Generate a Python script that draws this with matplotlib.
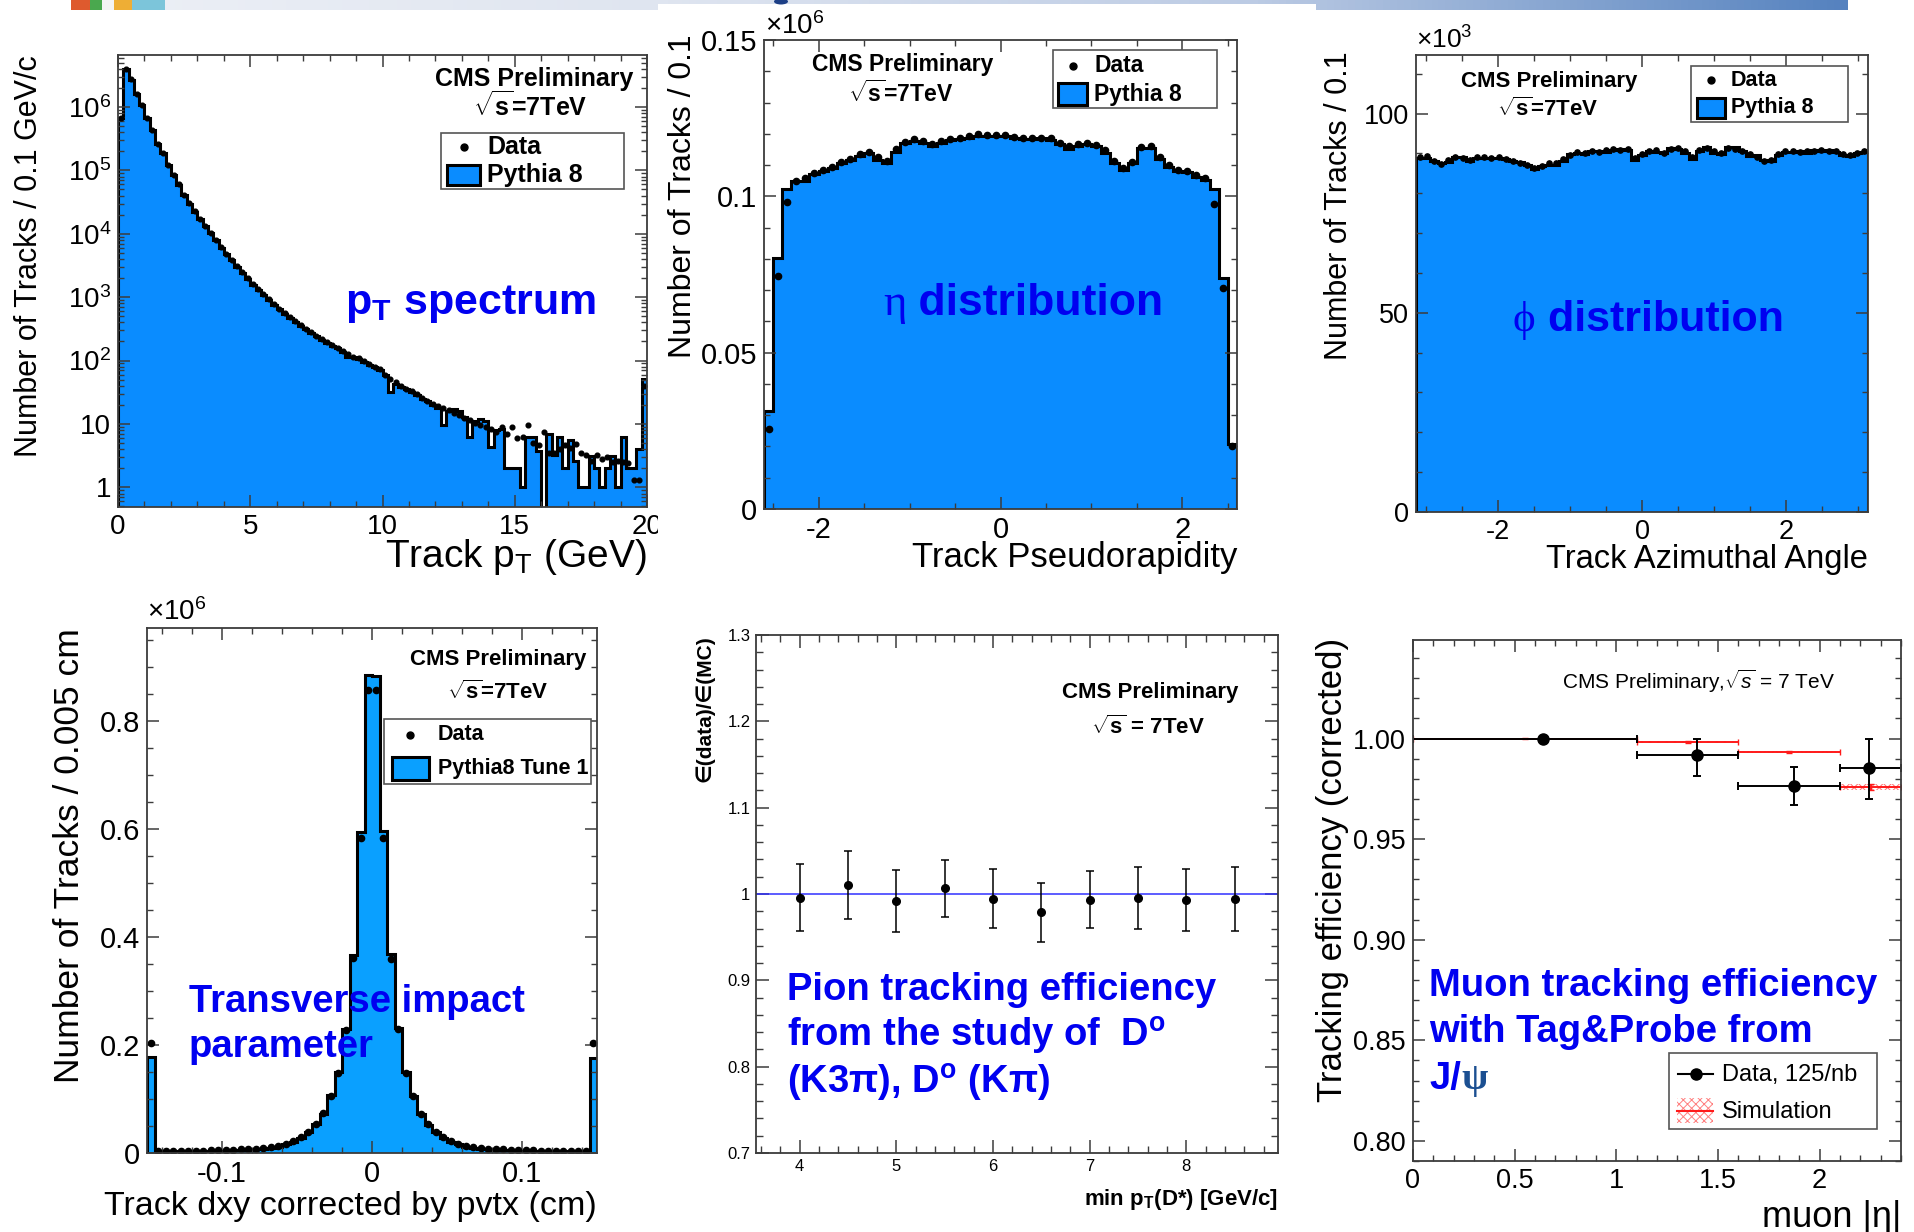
import numpy as np
import matplotlib.pyplot as plt
from matplotlib.colors import LinearSegmentedColormap
from matplotlib.lines import Line2D
from matplotlib.patches import Rectangle, Ellipse
from matplotlib.ticker import MultipleLocator, LogLocator, NullFormatter, FormatStrFormatter

plt.rcParams['font.family'] = ['Liberation Sans', 'DejaVu Sans']
plt.rcParams['mathtext.fontset'] = 'custom'
plt.rcParams['mathtext.rm'] = 'Liberation Sans'
plt.rcParams['mathtext.it'] = 'Liberation Sans:italic'
plt.rcParams['mathtext.bf'] = 'Liberation Sans:bold'
plt.rcParams['axes.unicode_minus'] = False
plt.rcParams['hatch.linewidth'] = 0.7

# ---- track pT spectrum, 0.2 GeV bins (last bin holds the overflow) ----
pt_edges = np.linspace(0, 20, 101)
pt_mc = [6.6e5, 3.9e6, 2.7e6, 1.6e6, 1.07e6, 6.6e5, 4.3e5, 2.6e5, 1.86e5, 1.2e5,
         8.3e4, 5.9e4, 4.1e4, 3.0e4, 2.24e4, 1.7e4, 1.32e4, 1.02e4, 7.9e3, 6.0e3,
         4.8e3, 3.8e3, 3.0e3, 2.4e3, 1.95e3, 1.58e3, 1.32e3, 1.1e3, 910, 760,
         650, 550, 470, 410, 355, 310, 275, 240, 214, 190,
         170, 155, 138, 112, 112, 105, 95, 85, 79, 71,
         60, 32, 42, 38, 35, 32, 29, 25, 23, 20,
         18, 9.5, 16, 17, 16, 13, 6.3, 11, 12, 11,
         4.3, 8, 8.3, 2, 2, 2, 1, 6.3, 6.3, 3.8,
         0, 7, 3.2, 6.3, 2, 5.5, 2.6, 1, 1, 3.1,
         2, 1, 2, 3.1, 1, 6.3, 2, 2, 4.1, 51]
pt_data = [6.8e5, 4.0e6, 2.75e6, 1.62e6, 1.08e6, 6.7e5, 4.3e5, 2.65e5, 1.88e5, 1.22e5,
           8.4e4, 6.0e4, 4.15e4, 3.05e4, 2.27e4, 1.72e4, 1.34e4, 1.03e4, 8.0e3, 6.1e3,
           4.85e3, 3.85e3, 3.05e3, 2.45e3, 1.97e3, 1.6e3, 1.34e3, 1.12e3, 920, 770,
           660, 560, 480, 415, 360, 315, 280, 245, 218, 195,
           175, 158, 140, 126, 115, 108, 98, 88, 80, 73,
           60, 52, 46, 40, 36, 33, 30, 26, 23, 21,
           19.5, 18, 16.5, 15, 14, 12.6, 11.5, 10.5, 9.5, 9.1,
           8.3, 7.6, 9.1, 7, 9.1, 6, 6.3, 9.8, 5, 4.6,
           7.6, 3.5, 3.5, 4, 4.6, 4.2, 4.9, 3.5, 3.2, 2.6,
           3.2, 2.8, 3, 2.5, 2.6, 2.5, 2.4, 1.3, 1.3, 40]

# ---- pseudorapidity, 0.1 bins, in units of 1e6 tracks ----
eta_edges = np.linspace(-2.6, 2.6, 53)
eta_mc = [0.0315, 0.0802, 0.1022, 0.1048, 0.1050, 0.1070, 0.1080, 0.1090, 0.1107, 0.1116,
          0.1130, 0.1140, 0.1116, 0.1107, 0.1142, 0.1172, 0.1178, 0.1172, 0.1160, 0.1172,
          0.1180, 0.1183, 0.1187, 0.1192, 0.1194, 0.1194, 0.1192, 0.1187, 0.1183, 0.1183,
          0.1187, 0.1180, 0.1166, 0.1152, 0.1160, 0.1166, 0.1160, 0.1140, 0.1107, 0.1083,
          0.1107, 0.1154, 0.1154, 0.1118, 0.1095, 0.1080, 0.1077, 0.1062, 0.1053, 0.1022,
          0.0740, 0.0209]
eta_data = [0.0256, 0.0746, 0.0983, 0.1050, 0.1058, 0.1075, 0.1085, 0.1095, 0.1110, 0.1120,
            0.1135, 0.1142, 0.1125, 0.1113, 0.1150, 0.1175, 0.1182, 0.1178, 0.1168, 0.1176,
            0.1184, 0.1186, 0.1192, 0.1198, 0.1196, 0.1197, 0.1195, 0.1190, 0.1188, 0.1186,
            0.1188, 0.1185, 0.1172, 0.1160, 0.1168, 0.1170, 0.1163, 0.1148, 0.1113, 0.1090,
            0.1110, 0.1158, 0.1160, 0.1125, 0.1100, 0.1085, 0.1082, 0.1068, 0.1058, 0.0977,
            0.0707, 0.0203]

# ---- azimuthal angle, in units of 1e3 tracks ----
phi_edges = np.linspace(-np.pi, np.pi, 64)
phi_mc = [88.8, 88.9, 88.2, 87.6, 87.8, 89.1, 89.0, 88.0, 88.8, 88.9,
          88.8, 88.9, 88.6, 88.0, 87.8, 87.0, 86.0, 86.9, 87.2, 87.2,
          88.2, 89.8, 90.0, 89.9, 90.5, 90.6, 90.4, 90.9, 91.0, 90.8,
          88.4, 89.7, 90.7, 90.4, 90.2, 91.3, 91.0, 90.2, 88.6, 90.6,
          91.6, 90.2, 89.8, 91.7, 91.5, 90.5, 89.4, 89.6, 88.3, 88.0,
          89.7, 90.4, 90.3, 90.6, 90.2, 90.9, 90.6, 90.8, 90.3, 89.5,
          89.3, 90.0, 90.3]
phi_data = [89.0, 89.3, 88.0, 87.4, 88.3, 89.2, 88.9, 88.4, 89.0, 89.1,
            88.9, 89.0, 88.5, 88.2, 87.6, 87.2, 86.3, 86.8, 87.5, 87.6,
            88.6, 89.6, 90.3, 90.1, 90.6, 90.4, 90.8, 91.0, 90.9, 91.2,
            88.9, 89.9, 90.5, 90.8, 90.0, 91.1, 91.3, 90.5, 89.0, 90.9,
            91.3, 90.6, 90.1, 91.4, 91.2, 90.7, 89.8, 89.2, 88.0, 88.4,
            89.9, 90.6, 90.5, 90.4, 90.5, 90.7, 90.8, 90.6, 90.5, 89.8,
            89.6, 90.2, 90.6]

# ---- transverse impact parameter, 0.005 cm bins, units of 1e6 (edge bins hold overflow) ----
dxy_edges = np.linspace(-0.15, 0.15, 61)
dxy_mc = [0.177, 0.0028, 0.0029, 0.0030, 0.0031, 0.0033, 0.0035, 0.0037, 0.0040, 0.0043,
          0.0046, 0.0050, 0.0056, 0.0062, 0.0070, 0.0080, 0.0095, 0.0120, 0.0160, 0.0210,
          0.0280, 0.0380, 0.0530, 0.0730, 0.1070, 0.1500, 0.2300, 0.3670, 0.5950, 0.8860,
          0.8840, 0.5970, 0.3690, 0.2310, 0.1510, 0.1060, 0.0720, 0.0520, 0.0380, 0.0280,
          0.0210, 0.0160, 0.0120, 0.0094, 0.0079, 0.0070, 0.0062, 0.0056, 0.0050, 0.0046,
          0.0043, 0.0040, 0.0037, 0.0035, 0.0033, 0.0031, 0.0030, 0.0029, 0.0028, 0.176]
dxy_data = [0.204, 0.0035, 0.0036, 0.0037, 0.0038, 0.0040, 0.0042, 0.0045, 0.0048, 0.0052,
            0.0056, 0.0060, 0.0066, 0.0073, 0.0082, 0.0093, 0.0110, 0.0135, 0.0175, 0.0225,
            0.0290, 0.0390, 0.0540, 0.0740, 0.1060, 0.1480, 0.2280, 0.3610, 0.5840, 0.8580,
            0.8580, 0.5840, 0.3600, 0.2290, 0.1490, 0.1050, 0.0730, 0.0530, 0.0390, 0.0290,
            0.0225, 0.0172, 0.0135, 0.0110, 0.0093, 0.0082, 0.0073, 0.0066, 0.0060, 0.0056,
            0.0052, 0.0048, 0.0045, 0.0042, 0.0040, 0.0038, 0.0037, 0.0036, 0.0035, 0.204]

# ---- pion tracking efficiency ratio vs min pT(D*) ----
pion_pt = [4.0, 4.5, 5.0, 5.5, 6.0, 6.5, 7.0, 7.5, 8.0, 8.5]
pion_ratio = [0.9957, 1.0106, 0.9923, 1.0067, 0.9947, 0.9788, 0.9933, 0.9957, 0.9933, 0.9947]
pion_err = [0.039, 0.039, 0.036, 0.033, 0.034, 0.034, 0.033, 0.036, 0.036, 0.037]

# ---- muon tracking efficiency vs |eta| ----
mu_bin_lo = [0.0, 1.1, 1.6, 2.1]
mu_bin_hi = [1.1, 1.6, 2.1, 2.4]
mu_eta = [0.637, 1.396, 1.872, 2.243]
mu_eff = [1.0000, 0.9916, 0.9764, 0.9855]
mu_err_up = [0.0010, 0.0084, 0.0093, 0.0145]
mu_err_dn = [0.0010, 0.0103, 0.0094, 0.0156]
sim_eff = [1.0000, 0.9983, 0.9934, 0.9759]
sim_err = [0.0004, 0.0005, 0.0005, 0.0013]

W, H = 1914, 1232
FILL = '#0a8cff'
FILL_DXY = '#0aa0ff'
BLUE = '#0000f0'
FRAME = '#3c3c3c'

fig = plt.figure(figsize=(W / 100, H / 100), dpi=100)


def panel(l, t, r, b, z=0):
    ax = fig.add_axes([l / W, 1 - b / H, (r - l) / W, (b - t) / H])
    ax.set_zorder(z)
    return ax


def root_axes(ax, size, pad=5, major=12, minor=6):
    for sp in ax.spines.values():
        sp.set_color(FRAME)
        sp.set_linewidth(1.3)
    ax.tick_params(which='both', direction='in', top=True, right=True, color=FRAME)
    ax.tick_params(which='major', length=major / 1.39, width=1.1, labelsize=size, pad=pad)
    ax.tick_params(which='minor', length=minor / 1.39, width=1.0)


def ftext(x, y, s, **kw):
    kw.setdefault('zorder', 6)
    return fig.text(x / W, 1 - y / H, s, **kw)


def frect(x0, y0, x1, y1, **kw):
    r = Rectangle((x0 / W, 1 - y1 / H), (x1 - x0) / W, (y1 - y0) / H,
                  transform=fig.transFigure, **kw)
    fig.add_artist(r)
    return r


def fdot(x, y, ms):
    fig.add_artist(Line2D([x / W], [1 - y / H], marker='o', ms=ms, color='black',
                          transform=fig.transFigure, zorder=7))


def hist_legend(box, dot, patch, text_x, labels, size, fill):
    frect(*box, facecolor='white', edgecolor='#555555', lw=1.2, zorder=5)
    fdot(dot[0], dot[1], 5)
    frect(*patch, facecolor=fill, edgecolor='black', lw=2.2, zorder=6)
    ftext(text_x, dot[1], labels[0], va='center', fontsize=size, fontweight='bold', zorder=7)
    ftext(text_x, (patch[1] + patch[3]) / 2, labels[1], va='center', fontsize=size,
          fontweight='bold', zorder=7)


def greek_title(x, y, greek, rest, size, ax):
    g = ftext(x, y, greek, fontsize=size, color=BLUE,
              family=['Liberation Serif', 'DejaVu Serif'], va='baseline')
    ax.annotate(rest, xy=(1, 0), xycoords=g, va='bottom', ha='left', fontsize=size,
                fontweight='bold', color=BLUE, annotation_clip=False, zorder=8)


# slide header strip
band = fig.add_axes([71 / W, 1 - 10 / H, (1848 - 71) / W, 10 / H])
band.axis('off')
band_cmap = LinearSegmentedColormap.from_list('band', ['#edf0f6', '#dfe5f0', '#bccbe4', '#5582bf'])
band.imshow(np.linspace(0, 1, 512)[None, :], aspect='auto', cmap=band_cmap)
for x0, x1, c in [(71, 90, '#de5a2e'), (90, 102, '#4aa84e'), (102, 114, '#f4f4f4'),
                  (114, 132, '#eeae35'), (132, 165, '#7cc5da')]:
    frect(x0, 0, x1, 10, facecolor=c, lw=0, zorder=1)
frect(658, 4, 1316, 560, facecolor='white', lw=0, zorder=1)
fig.add_artist(Ellipse((781 / W, 1 - 1.5 / H), 14 / W, 6 / H, transform=fig.transFigure,
                       facecolor='#1d3f86', lw=0, zorder=1))

# ---------- pT spectrum ----------
ax1 = panel(118, 55, 647, 507)
ax1.set_yscale('log')
pt_centres = 0.5 * (pt_edges[1:] + pt_edges[:-1])
ax1.stairs(pt_mc, pt_edges, baseline=1e-3, fill=True, color=FILL, lw=0)
ax1.stairs(pt_mc, pt_edges, baseline=1e-3, color='black', lw=2.2)
ax1.plot(pt_centres, pt_data, 'o', color='black', ms=3.4)
ax1.set_xlim(0, 20)
ax1.set_ylim(0.49, 6.6e6)
root_axes(ax1, 20)
ax1.xaxis.set_major_locator(MultipleLocator(5))
ax1.xaxis.set_minor_locator(MultipleLocator(1))
ax1.set_yticks([1, 10, 1e2, 1e3, 1e4, 1e5, 1e6],
               ['1', '10', r'$10^{2}$', r'$10^{3}$', r'$10^{4}$', r'$10^{5}$', r'$10^{6}$'])
ax1.yaxis.set_minor_locator(LogLocator(subs=np.arange(2, 10)))
ax1.yaxis.set_minor_formatter(NullFormatter())
ax1.set_ylabel('Number of Tracks / 0.1 GeV/c', fontsize=22, loc='top')
ax1.yaxis.set_label_coords(-0.14, 1.0)
ax1.set_xlabel(r'Track $\mathrm{p}_{\mathrm{T}}$ (GeV)', fontsize=28, loc='right')
ax1.xaxis.set_label_coords(1.0, -0.066)
ftext(633, 86, 'CMS Preliminary', ha='right', va='baseline', fontsize=18, fontweight='bold')
ftext(530, 116, r'$\sqrt{\mathbf{s}}$=7TeV', ha='center', va='baseline', fontsize=18,
      fontweight='bold')
hist_legend((441, 133, 624, 189), (464, 147), (447, 165, 480, 185), 487,
            ['Data', 'Pythia 8'], 18, FILL)
ftext(345, 314, r'$\mathbf{p_{T}}$ spectrum', va='baseline', fontsize=31,
      fontweight='bold', color=BLUE)

# ---------- pseudorapidity ----------
ax2 = panel(764, 40, 1237, 509, z=2)
eta_centres = 0.5 * (eta_edges[1:] + eta_edges[:-1])
ax2.stairs(eta_mc, eta_edges, fill=True, color=FILL, lw=0)
ax2.stairs(eta_mc, eta_edges, baseline=0, color='black', lw=2.2)
ax2.plot(eta_centres, eta_data, 'o', color='black', ms=4.5)
ax2.set_xlim(-2.6, 2.6)
ax2.set_ylim(0, 0.15)
root_axes(ax2, 21)
ax2.xaxis.set_major_locator(MultipleLocator(2))
ax2.xaxis.set_minor_locator(MultipleLocator(0.5))
ax2.yaxis.set_major_locator(MultipleLocator(0.05))
ax2.yaxis.set_minor_locator(MultipleLocator(0.01))
ax2.yaxis.set_major_formatter(FormatStrFormatter('%g'))
ax2.set_ylabel('Number of Tracks / 0.1', fontsize=23, loc='top')
ax2.yaxis.set_label_coords(-0.14, 1.012)
ax2.set_xlabel('Track Pseudorapidity', fontsize=25, loc='right')
ax2.xaxis.set_label_coords(1.0, -0.069)
ftext(765, 26, r'×$10^{6}$', va='center', fontsize=20)
ftext(903, 71, 'CMS Preliminary', ha='center', va='baseline', fontsize=16.5, fontweight='bold')
ftext(901, 102, r'$\sqrt{\mathbf{s}}$=7TeV', ha='center', va='baseline', fontsize=16.5,
      fontweight='bold')
hist_legend((1053, 50, 1217, 108), (1073, 66), (1058, 83, 1087, 105), 1094,
            ['Data', 'Pythia 8'], 16.5, FILL)
greek_title(883, 315, 'η', ' distribution', 32, ax2)

# ---------- azimuthal angle ----------
ax3 = panel(1416, 55, 1868, 512)
phi_centres = 0.5 * (phi_edges[1:] + phi_edges[:-1])
ax3.stairs(phi_mc, phi_edges, fill=True, color=FILL, lw=0)
ax3.stairs(phi_mc, phi_edges, baseline=0, color='black', lw=2.2)
ax3.plot(phi_centres, phi_data, 'o', color='black', ms=3.8)
ax3.set_xlim(-np.pi, np.pi)
ax3.set_ylim(0, 114.7)
root_axes(ax3, 19.5)
ax3.xaxis.set_major_locator(MultipleLocator(2))
ax3.xaxis.set_minor_locator(MultipleLocator(0.5))
ax3.yaxis.set_major_locator(MultipleLocator(50))
ax3.yaxis.set_minor_locator(MultipleLocator(10))
ax3.set_ylabel('Number of Tracks / 0.1', fontsize=22, loc='top')
ax3.yaxis.set_label_coords(-0.138, 1.008)
ax3.set_xlabel('Track Azimuthal Angle', fontsize=23.5, loc='right')
ax3.xaxis.set_label_coords(1.0, -0.069)
ftext(1416, 40, r'×$10^{3}$', va='center', fontsize=19)
ftext(1549, 87, 'CMS Preliminary', ha='center', va='baseline', fontsize=16, fontweight='bold')
ftext(1548, 116, r'$\sqrt{\mathbf{s}}$=7TeV', ha='center', va='baseline', fontsize=16,
      fontweight='bold')
hist_legend((1691, 66, 1848, 122), (1711, 80), (1697, 98, 1725, 118), 1731,
            ['Data', 'Pythia 8'], 15.5, FILL)
greek_title(1513, 331, 'ϕ', ' distribution', 31, ax3)

# ---------- transverse impact parameter ----------
ax4 = panel(147, 628, 597, 1153)
dxy_centres = 0.5 * (dxy_edges[1:] + dxy_edges[:-1])
ax4.stairs(dxy_mc, dxy_edges, fill=True, color=FILL_DXY, lw=0)
ax4.stairs(dxy_mc, dxy_edges, baseline=0, color='black', lw=2.2)
ax4.plot(dxy_centres, dxy_data, 'o', color='black', ms=4.5)
ax4.set_xlim(-0.15, 0.15)
ax4.set_ylim(0, 0.973)
root_axes(ax4, 21)
ax4.xaxis.set_major_locator(MultipleLocator(0.1))
ax4.xaxis.set_minor_locator(MultipleLocator(0.02))
ax4.xaxis.set_major_formatter(FormatStrFormatter('%g'))
ax4.yaxis.set_major_locator(MultipleLocator(0.2))
ax4.yaxis.set_minor_locator(MultipleLocator(0.05))
ax4.yaxis.set_major_formatter(FormatStrFormatter('%g'))
ax4.set_ylabel('Number of Tracks / 0.005 cm', fontsize=25.5, loc='top')
ax4.yaxis.set_label_coords(-0.136, 1.0)
ax4.set_xlabel('Track dxy corrected by pvtx (cm)', fontsize=24.5, loc='right')
ax4.xaxis.set_label_coords(1.0, -0.073)
ftext(147, 612, r'×$10^{6}$', va='center', fontsize=20)
ftext(586, 665, 'CMS Preliminary', ha='right', va='baseline', fontsize=16, fontweight='bold')
ftext(498, 699, r'$\sqrt{\mathbf{s}}$=7TeV', ha='center', va='baseline', fontsize=16,
      fontweight='bold')
hist_legend((384, 719, 591, 784), (410, 735), (392, 757, 429, 780), 438,
            ['Data', 'Pythia8 Tune 1'], 15.5, FILL_DXY)
ftext(189, 1012, 'Transverse impact', va='baseline', fontsize=27.5, fontweight='bold', color=BLUE)
ftext(189, 1057, 'parameter', va='baseline', fontsize=27.5, fontweight='bold', color=BLUE)

# ---------- pion tracking efficiency ----------
ax5 = panel(756, 635, 1278, 1153)
ax5.axhline(1.0, color='#3030ff', lw=1.1)
ax5.errorbar(pion_pt, pion_ratio, yerr=pion_err, fmt='o', color='black', ms=5.5,
             elinewidth=1.1, capsize=3, capthick=1.1)
ax5.set_xlim(3.55, 8.95)
ax5.set_ylim(0.7, 1.3)
root_axes(ax5, 12, pad=4, major=13, minor=7)
ax5.xaxis.set_major_locator(MultipleLocator(1))
ax5.xaxis.set_minor_locator(MultipleLocator(0.2))
ax5.yaxis.set_major_locator(MultipleLocator(0.1))
ax5.yaxis.set_minor_locator(MultipleLocator(0.02))
ax5.yaxis.set_major_formatter(FormatStrFormatter('%g'))
ax5.set_ylabel('∈(data)/∈(MC)', fontsize=15, fontweight='bold', loc='top')
ax5.yaxis.set_label_coords(-0.08, 1.0)
ax5.set_xlabel(r'min $\mathbf{p}_{\mathbf{T}}$(D*) [GeV/c]', fontsize=16, fontweight='bold',
               loc='right')
ax5.xaxis.set_label_coords(1.0, -0.065)
ftext(1150, 698, 'CMS Preliminary', ha='center', va='baseline', fontsize=16, fontweight='bold')
ftext(1148, 734, r'$\sqrt{\mathbf{s}}$ = 7TeV', ha='center', va='baseline', fontsize=16,
      fontweight='bold')
for yb, line in zip([1000, 1047, 1094],
                    ['Pion tracking efficiency', r'from the study of  D$^{\mathbf{o}}$',
                     r'(K3π), D$^{\mathbf{o}}$ (Kπ)']):
    ftext(787, yb, line, va='baseline', fontsize=27.5, fontweight='bold', color=BLUE)

# ---------- muon tracking efficiency ----------
ax6 = panel(1413, 640, 1901, 1161)
sim_mid = [0.5 * (a + b) for a, b in zip(mu_bin_lo, mu_bin_hi)]
for lo, hi, v, e in zip(mu_bin_lo, mu_bin_hi, sim_eff, sim_err):
    ax6.fill_between([lo, hi], v - e, v + e, facecolor='none', edgecolor='#ff7070',
                     hatch='xxxx', lw=0)
ax6.errorbar(sim_mid, sim_eff,
             xerr=[np.subtract(sim_mid, mu_bin_lo), np.subtract(mu_bin_hi, sim_mid)],
             yerr=sim_err, fmt='none', ecolor='#ff1a1a', elinewidth=1.4, capsize=2.5)
ax6.errorbar(mu_eta, mu_eff,
             xerr=[np.subtract(mu_eta, mu_bin_lo), np.subtract(mu_bin_hi, mu_eta)],
             yerr=[mu_err_dn, mu_err_up], fmt='o', color='black', ms=8,
             elinewidth=1.4, capsize=3, capthick=1.4)
ax6.set_xlim(0, 2.4)
ax6.set_ylim(0.79, 1.049)
root_axes(ax6, 19.5)
ax6.xaxis.set_major_locator(MultipleLocator(0.5))
ax6.xaxis.set_minor_locator(MultipleLocator(0.1))
ax6.xaxis.set_major_formatter(FormatStrFormatter('%g'))
ax6.yaxis.set_major_locator(MultipleLocator(0.05))
ax6.yaxis.set_minor_locator(MultipleLocator(0.01))
ax6.yaxis.set_major_formatter(FormatStrFormatter('%.2f'))
ax6.set_ylabel('Tracking efficiency (corrected)', fontsize=25, loc='top')
ax6.yaxis.set_label_coords(-0.131, 1.005)
ax6.set_xlabel('muon |η|', fontsize=26, loc='right')
ax6.xaxis.set_label_coords(1.0, -0.075)
ftext(1698, 689, r'CMS Preliminary,$\sqrt{s}$ = 7 TeV', ha='center', va='baseline', fontsize=15)
for yb, line in zip([996, 1042], ['Muon tracking efficiency', 'with Tag&Probe from']):
    ftext(1429, yb, line, va='baseline', fontsize=27.5, fontweight='bold', color=BLUE)
jt = ftext(1429, 1089, 'J/', va='baseline', fontsize=27.5, fontweight='bold', color=BLUE)
ax6.annotate('ψ', xy=(1, 0), xycoords=jt, va='bottom', ha='left', fontsize=27.5,
             fontweight='bold', color='#1b4f91', family='Liberation Serif',
             annotation_clip=False)
# legend
frect(1669, 1053, 1877, 1129, facecolor='white', edgecolor='#555555', lw=1.2, zorder=5)
fig.add_artist(Line2D([1678 / W, 1713 / W], [1 - 1074 / H] * 2, color='black', lw=1.5,
                      transform=fig.transFigure, zorder=6))
fdot(1695.5, 1074, 8)
frect(1677, 1098, 1713, 1123, facecolor='none', edgecolor='#ff8080', hatch='xxxx', lw=0, zorder=6)
fig.add_artist(Line2D([1677 / W, 1713 / W], [1 - 1111 / H] * 2, color='#ff1a1a', lw=1.5,
                      transform=fig.transFigure, zorder=7))
ftext(1722, 1075, 'Data, 125/nb', va='center', fontsize=17)
ftext(1722, 1112, 'Simulation', va='center', fontsize=17)

fig.savefig('out.png', dpi=100)
